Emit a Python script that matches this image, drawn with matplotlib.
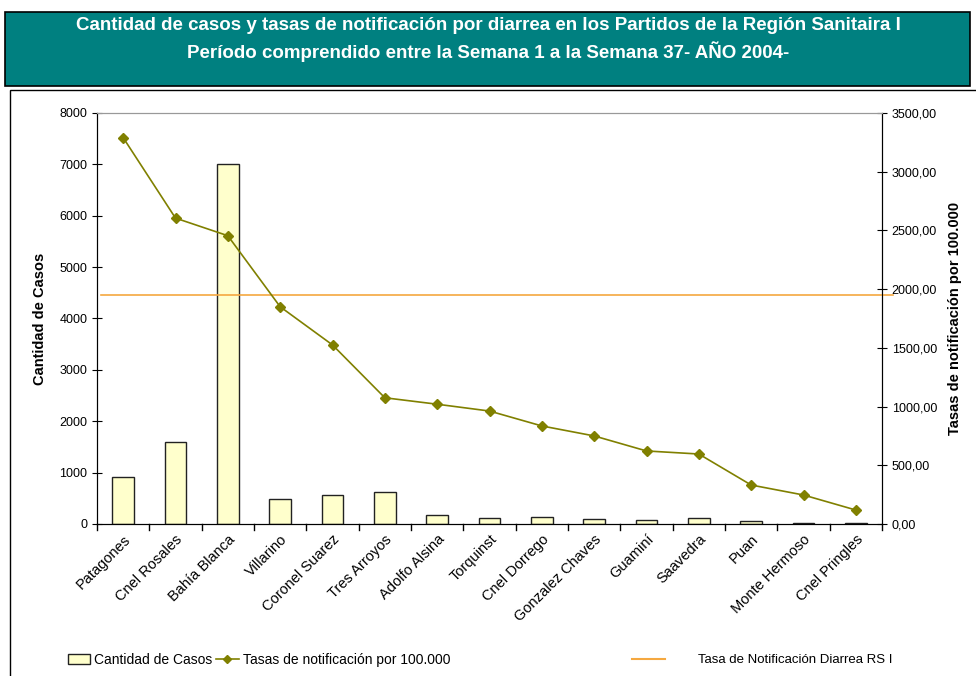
import matplotlib
matplotlib.use("Agg")
import matplotlib.pyplot as plt
from matplotlib.patches import Rectangle
from matplotlib.lines import Line2D
from matplotlib.ticker import FuncFormatter

plt.rcParams['font.family'] = ['Liberation Sans', 'DejaVu Sans']

partidos = ['Patagones', 'Cnel Rosales', 'Bahía Blanca', 'Villarino', 'Coronel Suarez',
            'Tres Arroyos', 'Adolfo Alsina', 'Torquinst', 'Cnel Dorrego', 'Gonzalez Chaves',
            'Guaminí', 'Saavedra', 'Puan', 'Monte Hermoso', 'Cnel Pringles']
casos = [910, 1600, 7000, 490, 565, 620, 175, 117, 136, 97, 78, 117, 58, 12, 12]
tasas = [3290, 2605, 2455, 1850, 1525, 1075, 1020, 962, 835, 750, 622, 596, 332, 247, 119]
tasa_rs = 1950

fig = plt.figure(figsize=(9.76, 6.76), dpi=100)

# title box
fig.patches.append(Rectangle((5 / 976, 1 - 86 / 676), 965 / 976, 74 / 676,
                             transform=fig.transFigure, facecolor='#008080',
                             edgecolor='black', lw=1.2))
fig.text(0.5, 1 - 26 / 676, 'Cantidad de casos y tasas de notificación por diarrea en los Partidos de la Región Sanitaira I',
         ha='center', va='center', color='white', fontsize=13.5, fontweight='bold')
fig.text(0.5, 1 - 52 / 676, 'Período comprendido entre la Semana 1 a la Semana 37- AÑO 2004-',
         ha='center', va='center', color='white', fontsize=13.5, fontweight='bold')

# chart frame
fig.patches.append(Rectangle((10 / 976, -0.01), 980 / 976, 1 - 90 / 676 + 0.01,
                             transform=fig.transFigure, facecolor='none',
                             edgecolor='black', lw=1))

ax = fig.add_axes([97 / 976, 1 - 524 / 676, 785 / 976, 411 / 676])
x = range(len(partidos))
ax.bar(x, casos, width=0.42, color='#FFFFCC', edgecolor='#222222', lw=1, zorder=2)
ax.set_ylim(0, 8000)
ax.set_xlim(-0.5, len(partidos) - 0.5)
ax.set_yticks(range(0, 8001, 1000))
ax.set_xticks(list(x))
ax.set_xticklabels(partidos, rotation=45, ha='right', rotation_mode='anchor', fontsize=10.5)
ax.tick_params(axis='y', labelsize=9, direction='inout', length=7)
ax.tick_params(axis='x', length=0, pad=6)
for i in range(len(partidos) + 1):
    ax.plot([i - 0.5, i - 0.5], [0, -120], color='black', lw=1, clip_on=False)
ax.set_ylabel('Cantidad de Casos', fontweight='bold', fontsize=10.5, labelpad=9)
ax.spines['top'].set_color('#999999')
for s in ['left', 'bottom', 'right']:
    ax.spines[s].set_color('black')

ax2 = ax.twinx()
ax2.plot(x, tasas, color='#808000', lw=1.2, marker='D', markersize=5, zorder=3)
ax2.axhline(tasa_rs, color='#F5A840', lw=1.2, xmin=0.005, xmax=1.014, clip_on=False)
ax2.set_ylim(0, 3500)
ax2.set_yticks(range(0, 3501, 500))
ax2.yaxis.set_major_formatter(FuncFormatter(lambda v, p: f'{v:.2f}'.replace('.', ',')))
ax2.tick_params(axis='y', labelsize=9, direction='inout', length=7)
ax2.set_ylabel('Tasas de notificación por 100.000', fontweight='bold', fontsize=10.5, labelpad=8)
ax2.spines['top'].set_color('#999999')

h1 = Rectangle((0, 0), 1, 1, facecolor='#FFFFCC', edgecolor='#222222')
h2 = Line2D([], [], color='#808000', marker='D', markersize=4, lw=1.2)
h3 = Line2D([], [], color='#F5A840', lw=1.5)
fig.legend([h1, h2], ['Cantidad de Casos', 'Tasas de notificación por 100.000'],
           loc='center left', bbox_to_anchor=(55 / 976, 1 - 660 / 676), ncol=2,
           frameon=False, fontsize=10, handlelength=1.6, columnspacing=0.3, handletextpad=0.3)
fig.legend([h3], ['Tasa de Notificación Diarrea RS I'],
           loc='center left', bbox_to_anchor=(620 / 976, 1 - 660 / 676),
           frameon=False, fontsize=9.5, handlelength=2.5, handletextpad=2.5)

fig.savefig('out.png', dpi=100)
